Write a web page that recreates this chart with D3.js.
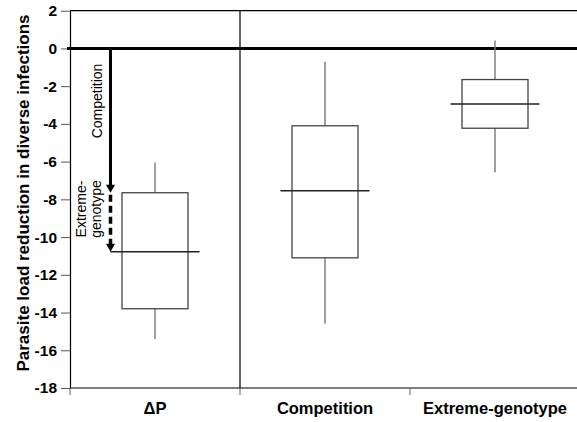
<!DOCTYPE html>
<html>
<head>
<meta charset="utf-8">
<script src="https://cdn.jsdelivr.net/npm/d3@7/dist/d3.min.js"></script>
<style>
body { margin: 0; background: #fff; }
text { font-family: "Liberation Sans", Arial, sans-serif; }
</style>
</head>
<body>
<div class="chart"></div>
<script>
// box plot values
var groups = ["\u0394P", "Competition", "Extreme-genotype"];
var whiskerTop = [-6.05, -0.7, 0.42];
var boxTop = [-7.65, -4.1, -1.65];
var medians = [-10.78, -7.55, -2.95];
var boxBottom = [-13.8, -11.1, -4.23];
var whiskerBottom = [-15.4, -14.6, -6.57];
var yTicks = [2, 0, -2, -4, -6, -8, -10, -12, -14, -16, -18];

var width = 577, height = 422;

var svg = d3.select(".chart")
    .append("svg")
    .attr("width", width)
    .attr("height", height)

var x = d3.scaleBand().domain(groups).range([70, 580]);
var y = d3.scaleLinear().domain([-18, 2]).range([388, 10.7]);

var mid = function (g) { return x(g) + x.bandwidth() / 2; };

// frame
svg.append("line")
    .attr("x1", 70).attr("x2", width)
    .attr("y1", y(2)).attr("y2", y(2))
    .attr("stroke", "#000").attr("stroke-width", 1.2)

svg.append("line")
    .attr("x1", x(groups[1])).attr("x2", x(groups[1]))
    .attr("y1", y(2)).attr("y2", y(-18))
    .attr("stroke", "#000").attr("stroke-width", 1.2)

// y axis, plain hyphen for the minus like the original
var yAxis = svg.append("g")
    .attr("transform", "translate(70,0)")
    .call(d3.axisLeft(y).tickValues(yTicks).tickFormat(function (d) { return String(d); })
        .tickSize(9).tickSizeOuter(0).tickPadding(4))

yAxis.select(".domain").attr("stroke", "#000").attr("stroke-width", 1.2)
yAxis.selectAll(".tick line").attr("stroke", "#555")
yAxis.selectAll("text")
    .style("font-size", "15.5px")
    .style("font-weight", "bold")
    .attr("fill", "#000")

// x axis: labels in the middle, ticks on the band edges
var xAxis = svg.append("g")
    .attr("transform", "translate(0," + y(-18) + ")")
    .call(d3.axisBottom(x).tickSize(0).tickPadding(14))

xAxis.select(".domain").remove()
xAxis.selectAll("text")
    .style("font-size", "16.5px")
    .style("font-weight", "bold")
    .attr("fill", "#000")

svg.append("line")
    .attr("x1", 70).attr("x2", width)
    .attr("y1", y(-18)).attr("y2", y(-18))
    .attr("stroke", "#000").attr("stroke-width", 1.2)

svg.selectAll(".xtick")
    .data(groups)
    .enter()
    .append("line")
    .attr("class", "xtick")
    .attr("x1", function (d) { return x(d); })
    .attr("x2", function (d) { return x(d); })
    .attr("y1", y(-18))
    .attr("y2", y(-18) + 7)
    .attr("stroke", "#666")

// y title
svg.append("text")
    .attr("transform", "translate(29," + 193 + ") rotate(-90)")
    .attr("text-anchor", "middle")
    .style("font-size", "17px")
    .style("font-weight", "bold")
    .text("Parasite load reduction in diverse infections")

// zero line
svg.append("line")
    .attr("x1", 67).attr("x2", width)
    .attr("y1", y(0)).attr("y2", y(0))
    .attr("stroke", "#000").attr("stroke-width", 3)

// whiskers
svg.selectAll(".whisker")
    .data(groups)
    .enter()
    .append("line")
    .attr("class", "whisker")
    .attr("x1", mid).attr("x2", mid)
    .attr("y1", function (d, i) { return y(whiskerTop[i]); })
    .attr("y2", function (d, i) { return y(whiskerBottom[i]); })
    .attr("stroke", "#777").attr("stroke-width", 1.4)

// boxes
svg.selectAll(".box")
    .data(groups)
    .enter()
    .append("rect")
    .attr("class", "box")
    .attr("x", function (d) { return mid(d) - 33; })
    .attr("width", 66)
    .attr("y", function (d, i) { return y(boxTop[i]); })
    .attr("height", function (d, i) { return y(boxBottom[i]) - y(boxTop[i]); })
    .attr("fill", "#fff")
    .attr("stroke", "#444").attr("stroke-width", 1.3)

// medians
svg.selectAll(".median")
    .data(groups)
    .enter()
    .append("line")
    .attr("class", "median")
    .attr("x1", function (d) { return mid(d) - 44.5; })
    .attr("x2", function (d) { return mid(d) + 44.5; })
    .attr("y1", function (d, i) { return y(medians[i]); })
    .attr("y2", function (d, i) { return y(medians[i]); })
    .attr("stroke", "#222").attr("stroke-width", 1.5)

// decomposition arrows on the dP box
var ax = mid(groups[0]) - 44.5;
var head = function (tipY) {
    return "M" + (ax - 4.5) + "," + (tipY - 8) + "L" + (ax + 4.5) + "," + (tipY - 8) + "L" + ax + "," + tipY + "Z";
};

svg.append("line")
    .attr("x1", ax).attr("x2", ax)
    .attr("y1", y(0)).attr("y2", y(boxTop[0]) - 7)
    .attr("stroke", "#000").attr("stroke-width", 3)
svg.append("path").attr("d", head(y(boxTop[0]))).attr("fill", "#000")

svg.append("line")
    .attr("x1", ax).attr("x2", ax)
    .attr("y1", y(boxTop[0]) + 2).attr("y2", y(medians[0]) - 7)
    .attr("stroke", "#000").attr("stroke-width", 3.5)
    .attr("stroke-dasharray", "7,4")
svg.append("path").attr("d", head(y(medians[0]))).attr("fill", "#000")

svg.append("text")
    .attr("transform", "translate(102,101) rotate(-90)")
    .attr("text-anchor", "middle")
    .style("font-size", "14px")
    .text("Competition")

svg.append("text")
    .attr("transform", "translate(86,209) rotate(-90)")
    .attr("text-anchor", "middle")
    .style("font-size", "14px")
    .text("Extreme-")

svg.append("text")
    .attr("transform", "translate(100.5,209) rotate(-90)")
    .attr("text-anchor", "middle")
    .style("font-size", "14px")
    .text("genotype")
</script>
</body>
</html>
